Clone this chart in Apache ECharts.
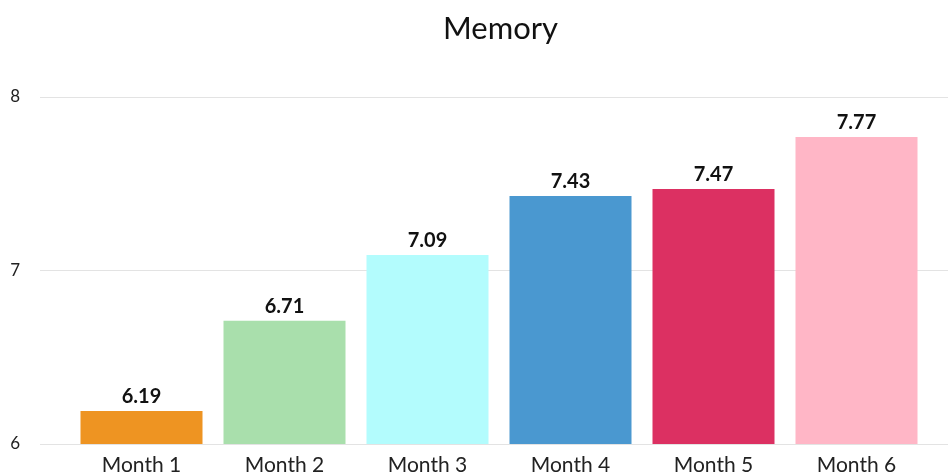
<!DOCTYPE html>
<html>
<head>
<meta charset="utf-8">
<script src="https://cdn.jsdelivr.net/npm/echarts@6/dist/echarts.min.js"></script>
<style>
  html, body { margin: 0; padding: 0; background: #fff; }
  #chart { width: 948px; height: 476px; }
</style>
</head>
<body>
<div id="chart"></div>
<script>
// chart data
var categories = ['Month 1', 'Month 2', 'Month 3', 'Month 4', 'Month 5', 'Month 6']
var values = [6.19, 6.71, 7.09, 7.43, 7.47, 7.77]
var barColors = ['#EE9422', '#A9DFAC', '#B3FCFD', '#4A98D0', '#DC3062', '#FFB6C6']
var yTicks = [6, 7, 8]

var chart = echarts.init(document.getElementById('chart'))
chart.setOption({
  animation: false,
  textStyle: { fontFamily: 'Lato' },
  title: {
    text: 'Memory',
    left: 438,
    top: 8,
    textStyle: { fontFamily: 'Lato', fontSize: 31, fontWeight: 'normal', color: '#111' }
  },
  grid: [
    // background grid for the split lines and y labels
    { left: 40, right: 0, top: 97, bottom: 32 },
    // grid for bars
    { left: 70, right: 20, top: 97, bottom: 32 }
  ],
  xAxis: [
    { gridIndex: 0, type: 'value', show: false },
    {
      gridIndex: 1,
      type: 'category',
      data: categories,
      axisLine: { show: false },
      axisTick: { show: false },
      axisLabel: { fontFamily: 'Lato', fontSize: 21, color: '#222', margin: 11 }
    }
  ],
  yAxis: [
    {
      gridIndex: 0,
      type: 'value',
      min: yTicks[0],
      max: yTicks[yTicks.length - 1],
      interval: 1,
      axisLine: { show: false },
      axisTick: { show: false },
      axisLabel: { fontFamily: 'Lato', fontSize: 17, color: '#222', margin: 20 },
      splitLine: { lineStyle: { color: '#e3e3e3', width: 1 } }
    },
    {
      gridIndex: 1,
      type: 'value',
      min: yTicks[0],
      max: yTicks[yTicks.length - 1],
      show: false
    }
  ],
  series: [
    {
      type: 'bar',
      xAxisIndex: 1,
      yAxisIndex: 1,
      barWidth: 122,
      data: values.map(function (v, i) {
        return { value: v, itemStyle: { color: barColors[i] } }
      }),
      label: {
        show: true,
        position: 'top',
        distance: 4,
        fontFamily: 'Lato',
        fontSize: 20,
        fontWeight: 'bold',
        color: '#111',
        formatter: function (p) { return p.value.toFixed(2) }
      }
    }
  ]
})
</script>
</body>
</html>
